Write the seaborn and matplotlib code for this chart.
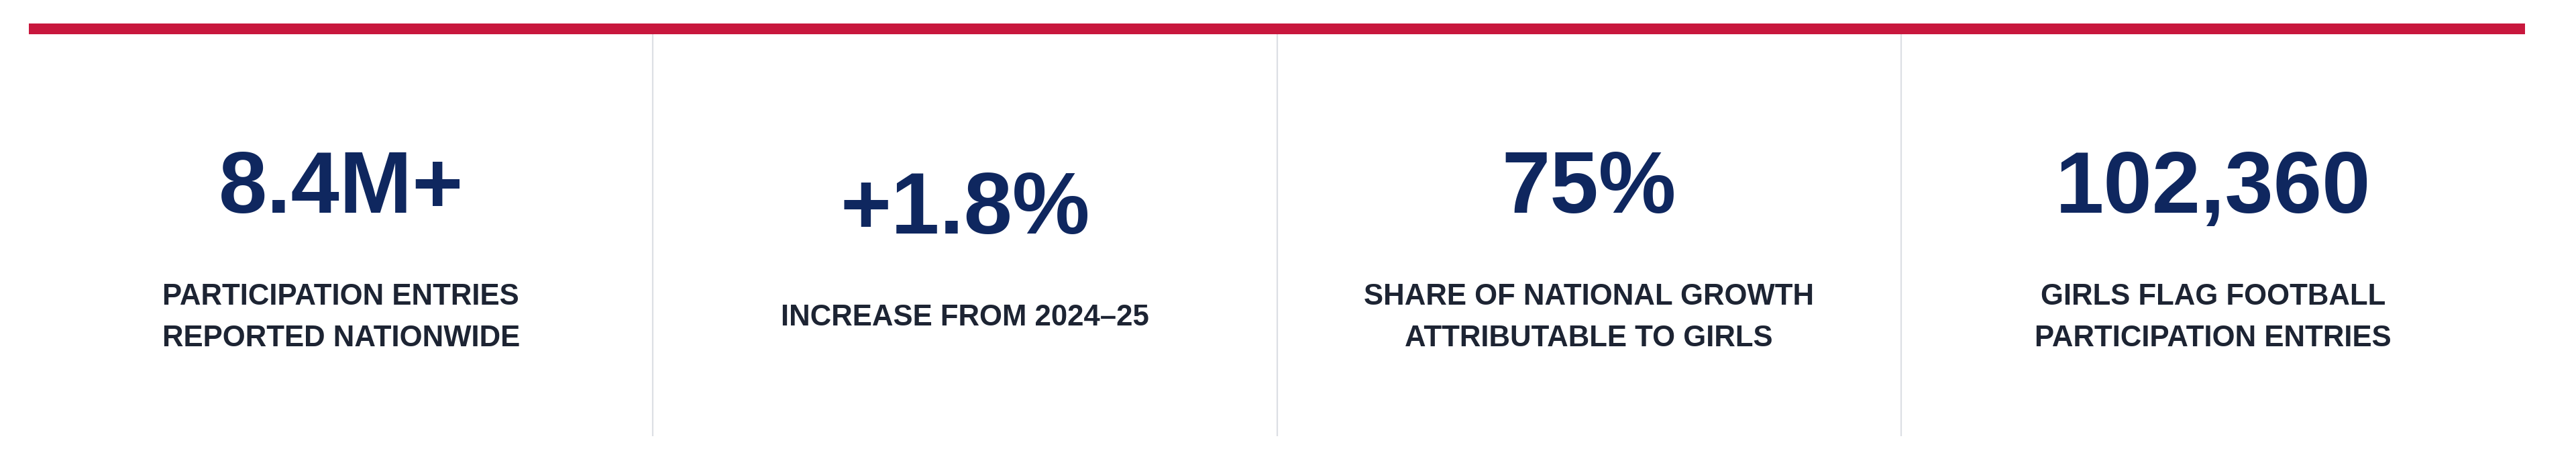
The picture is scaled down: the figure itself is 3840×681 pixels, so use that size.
import numpy as np
import matplotlib.pyplot as plt
import seaborn as sns

# stat cards: headline value + caption lines
values = ["8.4M+", "+1.8%", "75%", "102,360"]
captions = [
    ["PARTICIPATION ENTRIES", "REPORTED NATIONWIDE"],
    ["INCREASE FROM 2024\u201325"],
    ["SHARE OF NATIONAL GROWTH", "ATTRIBUTABLE TO GIRLS"],
    ["GIRLS FLAG FOOTBALL", "PARTICIPATION ENTRIES"],
]

NAVY = "#0f275f"
INK = "#1d2433"
RED = "#c8173d"
GRID = "#dcdfe4"


def main():
    sns.set_theme(style="white")
    plt.rcParams['font.family'] = ['Liberation Sans', 'DejaVu Sans']

    W, H = 3840, 681
    fig = plt.figure(figsize=(W / 100, H / 100), dpi=100)
    ax = fig.add_axes([0, 0, 1, 1])
    ax.set_xlim(0, W)
    ax.set_ylim(H, 0)
    ax.axis("off")

    left, right = 43, 3764
    edges = np.linspace(left, right, len(values) + 1)

    # red top rule
    ax.fill_between([left, right], 35, 51, color=RED, linewidth=0)
    # light dividers between cards
    ax.vlines(edges[1:-1], 51, 650, color=GRID, linewidth=1.6)

    for i, (val, lines) in enumerate(zip(values, captions)):
        cx = (edges[i] + edges[i + 1]) / 2
        shift = (2 - len(lines)) * 31
        ax.text(cx, 317 + shift, val, ha="center", va="baseline",
                fontsize=93.6, fontweight="bold", color=NAVY)
        for j, line in enumerate(lines):
            ax.text(cx, 454 + shift + j * 62, line, ha="center", va="baseline",
                    fontsize=31.5, fontweight="bold", color=INK)

    sns.despine(ax=ax, left=True, bottom=True)
    fig.savefig("out.png", dpi=100, facecolor="white")
    plt.close(fig)


if __name__ == "__main__":
    main()
